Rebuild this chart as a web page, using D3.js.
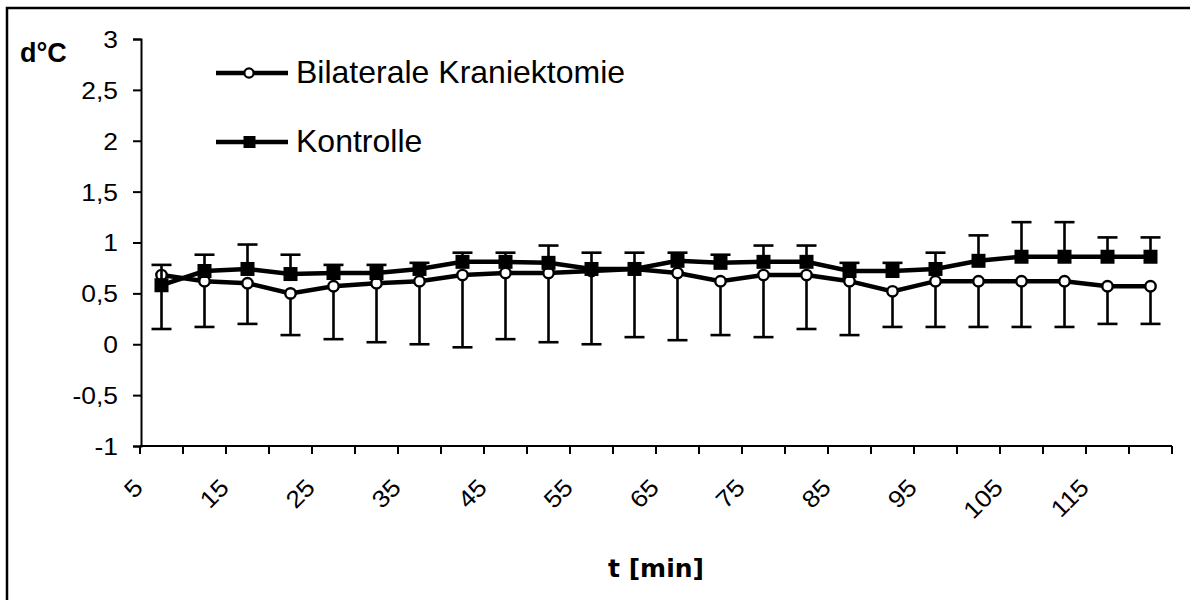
<!DOCTYPE html>
<html>
<head>
<meta charset="utf-8">
<script src="https://cdn.jsdelivr.net/npm/d3@7/dist/d3.min.js"></script>
<style>
  html, body { margin: 0; padding: 0; background: #fff; }
  svg { display: block; }
</style>
</head>
<body>
<svg id="chart" width="1190" height="600"></svg>
<script>
// Time points (min)
const minutes = [5, 10, 15, 20, 25, 30, 35, 40, 45, 50, 55, 60,
                 65, 70, 75, 80, 85, 90, 95, 100, 105, 110, 115, 120];

// Mean temperature difference (°C) per group
const bilateral = [0.68, 0.62, 0.60, 0.50, 0.57, 0.60, 0.62, 0.68, 0.70, 0.70, 0.72, 0.74,
                   0.70, 0.62, 0.68, 0.68, 0.62, 0.52, 0.62, 0.62, 0.62, 0.62, 0.57, 0.57];
const kontrolle = [0.58, 0.72, 0.74, 0.69, 0.70, 0.70, 0.74, 0.81, 0.81, 0.80, 0.74, 0.74,
                   0.82, 0.80, 0.81, 0.81, 0.72, 0.72, 0.74, 0.82, 0.86, 0.86, 0.86, 0.86];

// Standard deviations (bilateral drawn downward, control upward)
const bilateralSD = [0.53, 0.45, 0.40, 0.41, 0.52, 0.58, 0.62, 0.71, 0.65, 0.68, 0.72, 0.67,
                     0.66, 0.53, 0.61, 0.53, 0.53, 0.35, 0.45, 0.45, 0.45, 0.45, 0.37, 0.37];
const kontrolleSD = [0.20, 0.16, 0.24, 0.19, 0.08, 0.08, 0.06, 0.09, 0.09, 0.17, 0.16, 0.16,
                     0.08, 0.08, 0.16, 0.16, 0.08, 0.08, 0.16, 0.25, 0.34, 0.34, 0.19, 0.19];

const yTicks = [-1, -0.5, 0, 0.5, 1, 1.5, 2, 2.5, 3];
const xLabelEvery = 2;

const seriesNames = ["Bilaterale Kraniektomie", "Kontrolle"];

const svg = d3.select("#chart");

// Outer frame (continues past the right and bottom edges)
svg.append("rect")
  .attr("x", 7).attr("y", 8)
  .attr("width", 1200).attr("height", 620)
  .attr("fill", "none").attr("stroke", "#000").attr("stroke-width", 2.5);

const x = d3.scaleBand().domain(minutes).range([140, 1172]).padding(0);
const y = d3.scaleLinear().domain([-1, 3]).range([446, 39]);
const cx = d => x(d) + x.bandwidth() / 2;

const tickFont = "'Liberation Sans', Arial, sans-serif";

// Y axis
const yAxis = svg.append("g")
  .attr("transform", `translate(${x.range()[0] + 1},0)`)
  .call(d3.axisLeft(y).tickValues(yTicks).tickSize(8)
        .tickFormat(d => String(d).replace(".", ",")));
yAxis.select(".domain").attr("stroke", "#000").attr("stroke-width", 2);
yAxis.selectAll(".tick line").attr("stroke", "#000").attr("stroke-width", 2);
yAxis.selectAll(".tick text")
  .attr("x", null)
  .attr("dy", "0.35em")
  .attr("transform", "translate(-23,0) scale(1.1,1)")
  .attr("text-anchor", "end")
  .attr("fill", "#000")
  .style("font-family", tickFont)
  .style("font-size", "24px");

// X axis: labels at category centres, tick marks at category boundaries
const xAxis = svg.append("g")
  .attr("transform", `translate(0,${y(-1)})`)
  .call(d3.axisBottom(x).tickSize(0)
        .tickFormat((d, i) => i % xLabelEvery === 0 ? d : ""));
xAxis.select(".domain").remove();
xAxis.selectAll(".tick text")
  .attr("y", null).attr("dy", null)
  .attr("transform", "translate(-17,43) rotate(-45) scale(1.1,1)")
  .attr("text-anchor", "end")
  .attr("fill", "#000")
  .style("font-family", tickFont)
  .style("font-size", "24px");

const boundaries = minutes.map(d => x(d)).concat([x.range()[1]]);
xAxis.append("line")
  .attr("x1", x.range()[0]).attr("x2", x.range()[1])
  .attr("y1", 0).attr("y2", 0)
  .attr("stroke", "#000").attr("stroke-width", 2);
xAxis.selectAll("line.bound").data(boundaries).join("line")
  .attr("class", "bound")
  .attr("x1", d => d).attr("x2", d => d)
  .attr("y1", 0).attr("y2", 8)
  .attr("stroke", "#000").attr("stroke-width", 2);

// Axis titles
svg.append("text")
  .attr("x", 20).attr("y", 62)
  .style("font-family", "'Liberation Sans', Arial, sans-serif")
  .style("font-weight", "bold").style("font-size", "27px")
  .text("d°C");

svg.append("text")
  .attr("x", (x.range()[0] + x.range()[1]) / 2).attr("y", 577)
  .attr("text-anchor", "middle")
  .style("font-family", "'DejaVu Sans', sans-serif")
  .style("font-weight", "bold").style("font-size", "25px")
  .text("t [min]");

const line = d3.line().x((d, i) => cx(minutes[i])).y(d => y(d));
const capHalf = 10;

function errorBars(values, sd, dir) {
  const g = svg.append("g").attr("stroke", "#000").attr("stroke-width", 2.6);
  const ends = values.map((v, i) => v + dir * sd[i]);
  g.selectAll("line.v").data(values).join("line")
    .attr("class", "v")
    .attr("x1", (d, i) => cx(minutes[i])).attr("x2", (d, i) => cx(minutes[i]))
    .attr("y1", d => y(d)).attr("y2", (d, i) => y(ends[i]));
  g.selectAll("line.c").data(ends).join("line")
    .attr("class", "c")
    .attr("x1", (d, i) => cx(minutes[i]) - capHalf).attr("x2", (d, i) => cx(minutes[i]) + capHalf)
    .attr("y1", d => y(d)).attr("y2", d => y(d));
}

// Bilateral craniectomy
errorBars(bilateral, bilateralSD, -1);
svg.append("path").datum(bilateral)
  .attr("d", line).attr("fill", "none")
  .attr("stroke", "#000").attr("stroke-width", 4.5);
svg.append("g").selectAll("circle").data(bilateral).join("circle")
  .attr("cx", (d, i) => cx(minutes[i])).attr("cy", d => y(d))
  .attr("r", 5.2)
  .attr("fill", "#fff").attr("stroke", "#000").attr("stroke-width", 2.4);

// Control
errorBars(kontrolle, kontrolleSD, 1);
svg.append("path").datum(kontrolle)
  .attr("d", line).attr("fill", "none")
  .attr("stroke", "#000").attr("stroke-width", 4.5);
const sq = 14;
svg.append("g").selectAll("rect").data(kontrolle).join("rect")
  .attr("x", (d, i) => cx(minutes[i]) - sq / 2).attr("y", d => y(d) - sq / 2)
  .attr("width", sq).attr("height", sq)
  .attr("fill", "#000");

// Legend
const legend = svg.append("g");
const legendRows = [{ name: seriesNames[0], y: 73, marker: "circle" },
                    { name: seriesNames[1], y: 142, marker: "square" }];
legendRows.forEach(r => {
  legend.append("line")
    .attr("x1", 216).attr("x2", 288).attr("y1", r.y).attr("y2", r.y)
    .attr("stroke", "#000").attr("stroke-width", 4.5);
  if (r.marker === "circle") {
    legend.append("circle").attr("cx", 249).attr("cy", r.y).attr("r", 4.6)
      .attr("fill", "#fff").attr("stroke", "#000").attr("stroke-width", 2.2);
  } else {
    legend.append("rect").attr("x", 243.5).attr("y", r.y - 6)
      .attr("width", 12).attr("height", 12).attr("fill", "#000");
  }
  legend.append("text")
    .attr("x", 296).attr("y", r.y + 10)
    .style("font-family", "'Liberation Sans', Arial, sans-serif")
    .style("font-size", "32px")
    .text(r.name);
});
</script>
</body>
</html>
